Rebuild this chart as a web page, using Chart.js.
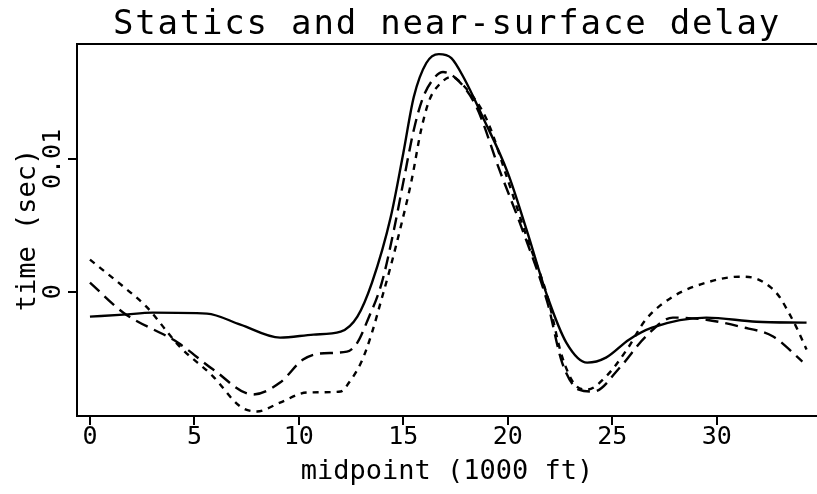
<!DOCTYPE html>
<html>
<head>
<meta charset="utf-8">
<script src="https://cdn.jsdelivr.net/npm/chart.js@4"></script>
<style>
  html, body { margin: 0; padding: 0; background: #fff; }
  #wrap { width: 817px; height: 494px; }
</style>
</head>
<body>
<div id="wrap"><canvas id="graphique"></canvas></div>
<script>
// ==========================================
//  DONNÉES
// ==========================================
const titre = "Statics and near-surface delay";
const titreX = "midpoint (1000 ft)";
const titreY = "time (sec)";
const ticksX = [0, 5, 10, 15, 20, 25, 30];
const ticksY = [0, 0.01];
const labelsTicksY = ["0", "0.01"];

// trait plein
const xPlein = [0, 1.6, 3.0, 5.6, 7.2, 9.1, 10.7, 12.0, 12.8, 13.5, 14.4, 15.0, 15.5, 16.1, 16.7, 17.3, 17.9, 18.8, 20.0, 20.9, 21.9, 22.8, 23.8, 24.7, 25.8, 26.9, 29.5, 31.9, 34.3];
const yPlein = [-0.00188, -0.00173, -0.00158, -0.00165, -0.00248, -0.00346, -0.00323, -0.00301, -0.00188, 0.00068, 0.00564, 0.01045, 0.01466, 0.01722, 0.01789, 0.01759, 0.01609, 0.01316, 0.00895, 0.00466, -0.00038, -0.00383, -0.00534, -0.00496, -0.00361, -0.00271, -0.00195, -0.00226, -0.00233];

// tirets longs
const xLong = [0, 1.6, 4.2, 5.9, 7.8, 9.1, 10.2, 11.0, 12.3, 12.8, 13.3, 13.97, 14.55, 15.02, 15.5, 15.9, 16.4, 16.9, 17.5, 18.5, 19.6, 20.7, 21.9, 22.6, 23.4, 24.1, 25.4, 26.6, 27.9, 29.5, 31.1, 32.7, 34.1];
const yLong = [0.00068, -0.00158, -0.00383, -0.00586, -0.00774, -0.00684, -0.00511, -0.00466, -0.00451, -0.00383, -0.00211, 0.00068, 0.00466, 0.00842, 0.01218, 0.01444, 0.01594, 0.01654, 0.01609, 0.01391, 0.00917, 0.00466, -0.00083, -0.00534, -0.00737, -0.00752, -0.00564, -0.00338, -0.00195, -0.00211, -0.00263, -0.00338, -0.00526];

// tirets courts
const xCourt = [0, 1.6, 2.7, 4.3, 5.9, 7.2, 8.0, 9.1, 10.4, 12.0, 12.4, 13.0, 13.5, 13.95, 14.35, 14.9, 15.4, 15.85, 16.25, 16.7, 17.3, 17.9, 19.0, 20.0, 20.9, 21.9, 22.6, 23.3, 23.8, 24.7, 25.7, 26.6, 27.9, 29.5, 31.1, 31.9, 32.6, 33.0, 33.5, 33.8, 34.3];
const yCourt = [0.00241, 0.00038, -0.00113, -0.00414, -0.00639, -0.00865, -0.00902, -0.00835, -0.00759, -0.00752, -0.00684, -0.00526, -0.00308, -0.00060, 0.00165, 0.00504, 0.00842, 0.01218, 0.01444, 0.01556, 0.01617, 0.01549, 0.01293, 0.00842, 0.00414, -0.00038, -0.00489, -0.00714, -0.00737, -0.00639, -0.00436, -0.00211, -0.00038, 0.00068, 0.00113, 0.00098, 0.00030, -0.00038, -0.00173, -0.00263, -0.00436];

const police = "'DejaVu Sans Mono', monospace";
const noir = '#000';

function serie(xs, ys, tirets) {
    return {
        data: xs.map((x, i) => ({ x: x, y: ys[i] })),
        borderColor: noir,
        borderWidth: 2.4,
        borderDash: tirets,
        pointRadius: 0,
        fill: false,
        cubicInterpolationMode: 'monotone'
    };
}

// titre, cadre du haut et étiquettes de l'axe Y (tournées)
const pluginDecor = {
    id: 'decor',
    afterDraw(chart) {
        const ctx = chart.ctx;
        const zone = chart.chartArea;
        const echY = chart.scales.y;
        ctx.save();
        ctx.strokeStyle = noir;
        ctx.lineWidth = 2;
        ctx.beginPath();
        ctx.moveTo(zone.left, zone.top);
        ctx.lineTo(zone.right, zone.top);
        ctx.stroke();

        ctx.fillStyle = noir;
        ctx.font = "34px " + police;
        ctx.letterSpacing = "1.8px";
        ctx.textAlign = 'center';
        ctx.textBaseline = 'alphabetic';
        ctx.fillText(titre, (zone.left + zone.right) / 2, 34);

        ctx.letterSpacing = "0px";
        ctx.font = "25px " + police;
        ticksY.forEach((v, i) => {
            const py = echY.getPixelForValue(v);
            ctx.save();
            ctx.translate(53, py);
            ctx.rotate(-Math.PI / 2);
            ctx.textAlign = 'center';
            ctx.textBaseline = 'middle';
            ctx.fillText(labelsTicksY[i], 0, 0);
            ctx.restore();
        });
        ctx.restore();
    }
};

const ctx = document.getElementById('graphique').getContext('2d');
new Chart(ctx, {
    type: 'line',
    data: {
        datasets: [
            serie(xPlein, yPlein, []),
            serie(xLong, yLong, [13, 7]),
            serie(xCourt, yCourt, [6, 6])
        ]
    },
    options: {
        responsive: true,
        maintainAspectRatio: false,
        animation: false,
        layout: { padding: { top: 44, left: 0, right: 0, bottom: 0 } },
        plugins: {
            legend: { display: false },
            tooltip: { enabled: false },
            title: { display: false }
        },
        scales: {
            x: {
                type: 'linear',
                min: -0.62,
                max: 34.8,
                afterBuildTicks: s => { s.ticks = ticksX.map(v => ({ value: v })); },
                afterFit: s => { s.height = 78; },
                grid: { drawOnChartArea: false, drawTicks: true, tickLength: 9, color: noir, lineWidth: 2 },
                border: { display: true, color: noir, width: 2 },
                ticks: { color: noir, font: { family: police, size: 25 }, padding: -3, maxRotation: 0 },
                title: { display: true, text: titreX, color: noir, font: { family: police, size: 27 }, padding: { top: 0, bottom: 6 } }
            },
            y: {
                type: 'linear',
                min: -0.00936,
                max: 0.01865,
                afterBuildTicks: s => { s.ticks = ticksY.map(v => ({ value: v })); },
                afterFit: s => { s.width = 77; },
                grid: { drawOnChartArea: false, drawTicks: true, tickLength: 9, color: noir, lineWidth: 2 },
                border: { display: true, color: noir, width: 2 },
                ticks: { display: false },
                title: { display: true, text: titreY, color: noir, font: { family: police, size: 27 }, padding: { top: 12, bottom: 0 } }
            }
        }
    },
    plugins: [pluginDecor]
});
</script>
</body>
</html>
